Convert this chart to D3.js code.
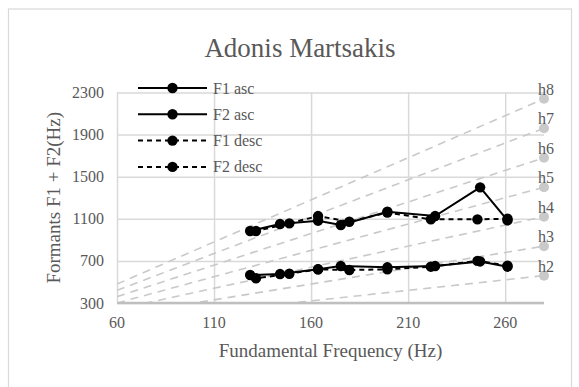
<!DOCTYPE html>
<html lang="en">
<head>
    <meta charset="UTF-8">
    <title>Adonis Martsakis</title>
    <script src="https://d3js.org/d3.v7.min.js"></script>
    <style>
        body { margin: 0; background: #fff; }
        text { font-family: "Liberation Serif", "Times New Roman", serif; fill: #595959; }
    </style>
</head>
<body>
<script>
    // Fundamental frequency ticks and formant ticks
    const xTicks = [60, 110, 160, 210, 260];
    const yTicks = [300, 700, 1100, 1500, 1900, 2300];

    // Ascending scale
    const ascF0 = [128.6, 144, 163.6, 175.3, 199.3, 223.9, 247.1, 261.2];
    const f1Asc = [566, 575, 620, 651, 639, 651, 695, 645];
    const f2Asc = [984, 1050, 1082, 1041, 1167, 1126, 1399, 1085];

    // Descending scale
    const descF0 = [261.2, 245.7, 221.7, 199.3, 179.7, 163.6, 148.8, 131.6];
    const f1Desc = [655, 700, 645, 620, 613, 620, 578, 535];
    const f2Desc = [1100, 1095, 1095, 1160, 1072, 1126, 1057, 984];

    // Harmonic lines h2..h8, from F0 = 60 to F0 = 280
    const harmonics = ['h2', 'h3', 'h4', 'h5', 'h6', 'h7', 'h8'];
    const harmonicF0 = [60, 280];
    const harmonicStart = [120, 180, 240, 300, 360, 420, 480];
    const harmonicEnd = [560, 840, 1120, 1400, 1680, 1960, 2240];

    const width = 579, height = 387;
    const margin = { top: 92.5, right: 35, bottom: 84, left: 117 };
    const w = width - margin.left - margin.right;
    const h = height - margin.top - margin.bottom;

    const svg = d3.select('body').append('svg')
        .attr('width', width)
        .attr('height', height);

    // chart area border
    svg.append('rect')
        .attr('x', 8.5).attr('y', 9)
        .attr('width', 563).attr('height', 400)
        .attr('fill', 'none')
        .attr('stroke', '#d9d9d9')
        .attr('stroke-width', 1.2);

    const g = svg.append('g')
        .attr('transform', `translate(${margin.left},${margin.top})`);

    const x = d3.scaleLinear().domain([60, 280]).range([0, w]);
    const y = d3.scaleLinear().domain([300, 2300]).range([h, 0]);

    svg.append('defs').append('clipPath').attr('id', 'plot')
        .append('rect').attr('width', w).attr('height', h);

    // gridlines
    g.append('g')
        .attr('transform', `translate(0,${h})`)
        .call(d3.axisBottom(x).tickValues(xTicks).tickSize(-h).tickFormat(''))
        .call(a => a.select('.domain').remove())
        .selectAll('line').attr('stroke', '#d9d9d9').attr('stroke-width', 1.5);

    g.append('g')
        .call(d3.axisLeft(y).tickValues(yTicks).tickSize(-w).tickFormat(''))
        .call(a => a.select('.domain').remove())
        .selectAll('line').attr('stroke', '#d9d9d9').attr('stroke-width', 1.5);

    // harmonic lines
    const harm = harmonics.map((name, i) => ({
        name: name,
        pts: [[harmonicF0[0], harmonicStart[i]], [harmonicF0[1], harmonicEnd[i]]]
    }));

    g.append('g').attr('clip-path', 'url(#plot)')
        .selectAll('line')
        .data(harm)
        .enter().append('line')
        .attr('x1', d => x(d.pts[0][0])).attr('y1', d => y(d.pts[0][1]))
        .attr('x2', d => x(d.pts[1][0])).attr('y2', d => y(d.pts[1][1]))
        .attr('stroke', '#c9c9c9')
        .attr('stroke-width', 1.6)
        .attr('stroke-dasharray', '8,6');

    // x axis line
    g.append('line')
        .attr('x1', 0).attr('x2', w)
        .attr('y1', h).attr('y2', h)
        .attr('stroke', '#bfbfbf').attr('stroke-width', 2.5);

    g.selectAll('.harm-dot')
        .data(harm)
        .enter().append('circle')
        .attr('cx', d => x(d.pts[1][0]))
        .attr('cy', d => y(d.pts[1][1]))
        .attr('r', 5)
        .attr('fill', '#c9c9c9');

    g.selectAll('.harm-label')
        .data(harm)
        .enter().append('text')
        .attr('x', d => x(d.pts[1][0]) + 2)
        .attr('y', d => y(d.pts[1][1]) - 4)
        .attr('text-anchor', 'middle')
        .style('font-size', '16px')
        .text(d => d.name);

    // tick labels
    g.selectAll('.xlab')
        .data(xTicks)
        .enter().append('text')
        .attr('x', d => x(d))
        .attr('y', h + 25)
        .attr('text-anchor', 'middle')
        .style('font-size', '16px')
        .text(d => d);

    g.selectAll('.ylab')
        .data(yTicks)
        .enter().append('text')
        .attr('x', -13)
        .attr('y', d => y(d) + 5.5)
        .attr('text-anchor', 'end')
        .style('font-size', '16px')
        .text(d => d);

    // formant series
    const series = [
        { name: 'F1 asc', f0: ascF0, v: f1Asc, dash: null },
        { name: 'F2 asc', f0: ascF0, v: f2Asc, dash: null },
        { name: 'F1 desc', f0: descF0, v: f1Desc, dash: '5,4' },
        { name: 'F2 desc', f0: descF0, v: f2Desc, dash: '5,4' }
    ];

    const line = d3.line().x(d => x(d[0])).y(d => y(d[1]));

    series.forEach(s => {
        const pts = s.f0.map((f, i) => [f, s.v[i]]);
        g.append('path')
            .datum(pts)
            .attr('d', line)
            .attr('fill', 'none')
            .attr('stroke', '#000')
            .attr('stroke-width', 2)
            .attr('stroke-dasharray', s.dash);
        g.selectAll(null)
            .data(pts)
            .enter().append('circle')
            .attr('cx', d => x(d[0]))
            .attr('cy', d => y(d[1]))
            .attr('r', 5.2)
            .attr('fill', '#000');
    });

    // legend
    const legend = svg.append('g').attr('transform', 'translate(138,88)');
    series.forEach((s, i) => {
        const row = legend.append('g').attr('transform', `translate(0,${i * 26.3})`);
        row.append('line')
            .attr('x1', 0).attr('x2', 69)
            .attr('stroke', '#000').attr('stroke-width', 2)
            .attr('stroke-dasharray', s.dash);
        row.append('circle').attr('cx', 34.5).attr('r', 5.2).attr('fill', '#000');
        row.append('text')
            .attr('x', 75).attr('y', 5.5)
            .style('font-size', '16px')
            .text(s.name);
    });

    // titles
    svg.append('text')
        .attr('x', 300).attr('y', 57)
        .attr('text-anchor', 'middle')
        .style('font-size', '27px')
        .text('Adonis Martsakis');

    svg.append('text')
        .attr('x', margin.left + w / 2).attr('y', 357)
        .attr('text-anchor', 'middle')
        .style('font-size', '19px')
        .text('Fundamental Frequency (Hz)');

    svg.append('text')
        .attr('transform', `translate(60,${margin.top + h / 2}) rotate(-90)`)
        .attr('text-anchor', 'middle')
        .style('font-size', '19px')
        .text('Formants F1 + F2(Hz)');
</script>
</body>
</html>
